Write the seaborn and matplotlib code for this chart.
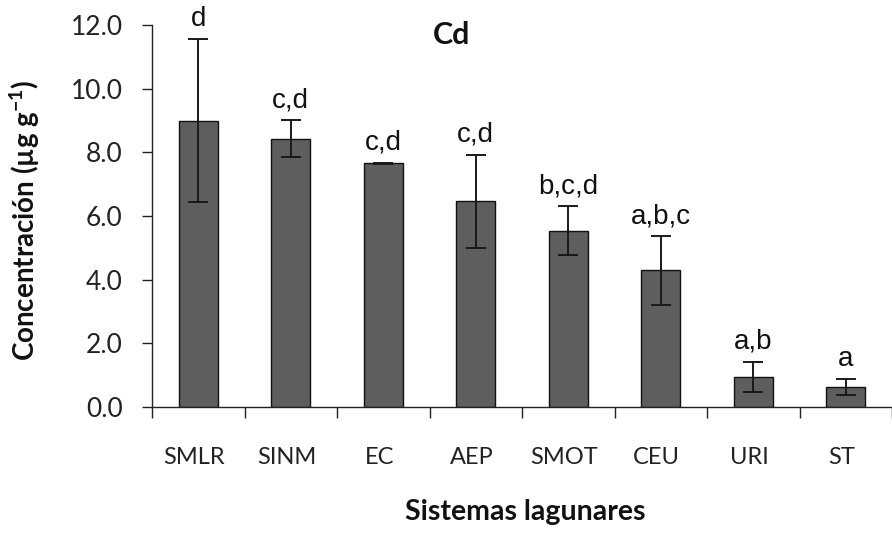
import matplotlib
matplotlib.use("Agg")
import matplotlib.pyplot as plt
import matplotlib.transforms as mtransforms
import seaborn as sns
import pandas as pd
import numpy as np

# ---- data ----
categories = ["SMLR", "SINM", "EC", "AEP", "SMOT", "CEU", "URI", "ST"]
means = [9.00, 8.43, 7.66, 6.46, 5.54, 4.29, 0.95, 0.62]
errors = [2.57, 0.58, 0.02, 1.46, 0.76, 1.08, 0.47, 0.25]
letters = ["d", "c,d", "c,d", "c,d", "b,c,d", "a,b,c", "a,b", "a"]
y_ticks = [0.0, 2.0, 4.0, 6.0, 8.0, 10.0, 12.0]

df = pd.DataFrame({"sistema": categories, "conc": means})

sns.set_style("white")
plt.rcParams["font.family"] = ["Lato", "DejaVu Sans"]

fig = plt.figure(figsize=(8.92, 5.33), dpi=100)
W, H = 892, 533
ax_left, ax_right, ax_top, ax_bottom = 152, 892, 25, 407
ax = fig.add_axes([ax_left / W, 1 - ax_bottom / H, (ax_right - ax_left) / W,
                   (ax_bottom - ax_top) / H])

sns.barplot(data=df, x="sistema", y="conc", order=categories, color="#5e5e5e",
            saturation=1, width=0.42, edgecolor="#111111", linewidth=1.0,
            errorbar=None, ax=ax)

ax.errorbar(categories, means, yerr=errors, fmt="none", ecolor="#1a1a1a",
            elinewidth=1.4, capsize=7, capthick=1.4, zorder=5)

for i, (m, e, lab) in enumerate(zip(means, errors, letters)):
    ax.annotate(lab, xy=(i, m + e), xytext=(0, 5), textcoords="offset points",
                ha="center", va="bottom", fontsize=20,
                family=["Liberation Sans", "DejaVu Sans"], color="#111111",
                annotation_clip=False)

cat_w = 94.0
ax.set_xlim(-0.5, -0.5 + (ax_right - ax_left) / cat_w)
ax.set_ylim(0, 12)
ax.set_yticks(y_ticks)
ax.set_yticklabels([f"{v:.1f}" for v in y_ticks])
ax.set_xticks(range(len(categories)))
ax.set_xticklabels(categories)
ax.set_xticks(np.arange(-0.5, len(categories) - 0.4, 1.0), minor=True)

ax.tick_params(axis="x", which="major", length=0, pad=29, labelsize=17,
               labelcolor="#222222")
ax.tick_params(axis="x", which="minor", length=8, width=1.0, color="#222222",
               direction="out", bottom=True)
ax.tick_params(axis="y", which="major", length=7, width=1.0, color="#222222",
               direction="out", left=True, pad=14, labelsize=19,
               labelcolor="#222222")

# slight left shift of category labels as in the reference
offset = mtransforms.ScaledTranslation(-4 / 100, 0, fig.dpi_scale_trans)
for t in ax.get_xticklabels():
    t.set_transform(t.get_transform() + offset)

for s in ["top", "right"]:
    ax.spines[s].set_visible(False)
for s in ["left", "bottom"]:
    ax.spines[s].set_color("#222222")
    ax.spines[s].set_linewidth(1.0)

ax.set_ylabel("Concentración (µg g$^{\\mathregular{-1}}$)", fontsize=20,
              fontweight="bold", color="#111111")
ax.yaxis.set_label_coords((42 - ax_left) / (ax_right - ax_left), 0.49)
ax.set_xlabel("Sistemas lagunares", fontsize=20.5, fontweight="bold",
              color="#111111")
ax.xaxis.set_label_coords(0.505, -(499 - ax_bottom) / (ax_bottom - ax_top))

ax.text((452 - ax_left) / (ax_right - ax_left), (ax_bottom - 35) / (ax_bottom - ax_top),
        "Cd", transform=ax.transAxes, ha="center", va="center", fontsize=22,
        fontweight="bold", color="#111111")

fig.savefig("out.png", dpi=100)
